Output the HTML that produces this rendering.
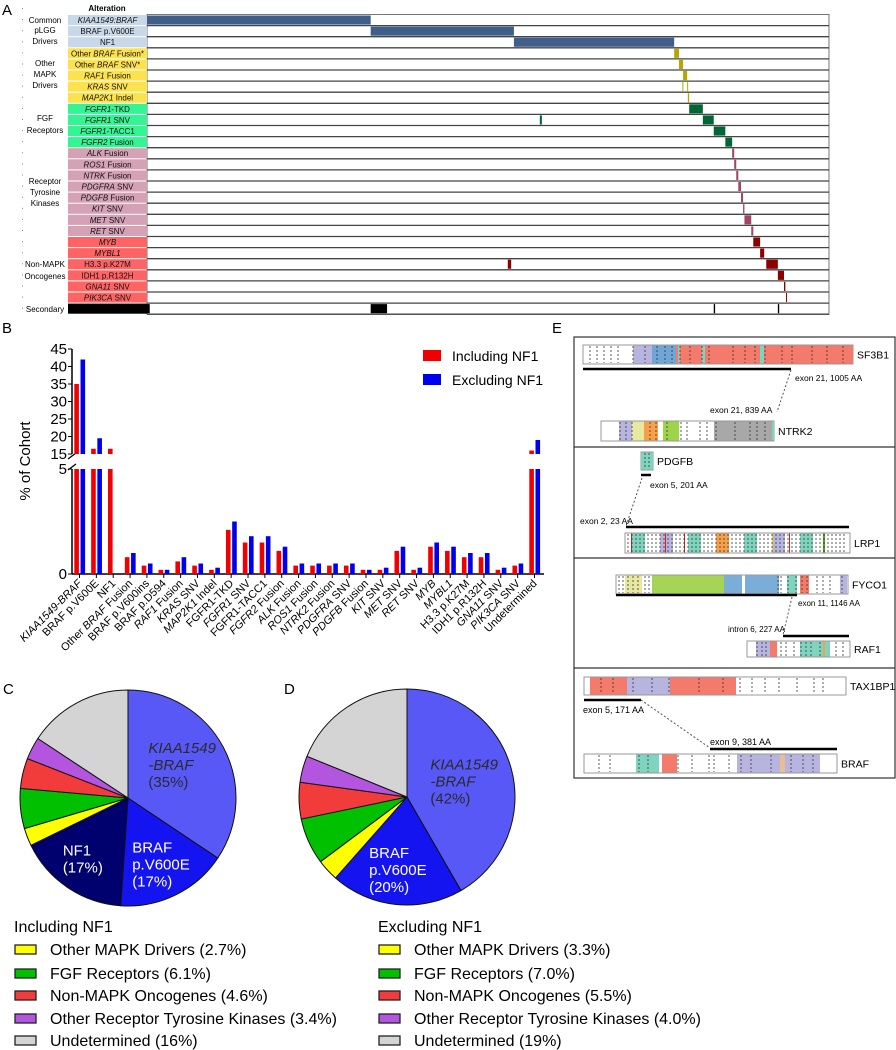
<!DOCTYPE html>
<html><head><meta charset="utf-8"><style>
html,body{margin:0;padding:0;background:#fff;}
svg{display:block;font-family:"Liberation Sans",sans-serif;}
</style></head><body>
<svg id="fig" width="896" height="1050" viewBox="0 0 896 1050" xmlns="http://www.w3.org/2000/svg">
<g id="pa"></g>
<g id="pb"></g>
<g id="pc"></g>
<g id="pd"></g>
<g id="pe"></g>
<text x="2" y="15" font-size="15">A</text>
<text x="2" y="333" font-size="15">B</text>
<text x="552" y="333" font-size="15">E</text>
<text x="3" y="694" font-size="15">C</text>
<text x="284" y="694" font-size="15">D</text>
</svg>
<script>
var NS="http://www.w3.org/2000/svg";
function mk(tag,attrs,parent,txt){var e=document.createElementNS(NS,tag);for(var k in attrs)e.setAttribute(k,attrs[k]);if(txt!==undefined)e.textContent=txt;parent.appendChild(e);return e;}

/* ---------- Panel A data ---------- */
var aRows=["KIAA1549:BRAF","BRAF p.V600E","NF1","Other BRAF Fusion*","Other BRAF SNV*","RAF1 Fusion","KRAS SNV","MAP2K1 Indel","FGFR1-TKD","FGFR1 SNV","FGFR1-TACC1","FGFR2 Fusion","ALK Fusion","ROS1 Fusion","NTRK Fusion","PDGFRA SNV","PDGFB Fusion","KIT SNV","MET SNV","RET SNV","MYB","MYBL1","H3.3 p.K27M","IDH1 p.R132H","GNA11 SNV","PIK3CA SNV","Secondary"];
var aItalic=["KIAA1549:BRAF","","","BRAF","BRAF","RAF1","KRAS","MAP2K1","FGFR1","FGFR1","FGFR1","FGFR2","ALK","ROS1","NTRK","PDGFRA","PDGFB","KIT","MET","RET","MYB","MYBL1","","","GNA11","PIK3CA",""];
var aGroup=[0,0,0,1,1,1,1,1,2,2,2,2,3,3,3,3,3,3,3,3,4,4,4,4,4,4,5];
var aSegs=[[[0,328]],[[328,538]],[[538,773]],[[773,780]],[[780,786]],[[786,792]],[[785,786],[792,793]],[[793,795]],[[795,815]],[[576,579],[815,831]],[[831,848]],[[848,858]],[[858,861]],[[861,864]],[[864,867]],[[867,871]],[[871,874]],[[874,876]],[[876,886]],[[886,889]],[[889,899]],[[899,905]],[[529,534],[908,925]],[[925,934]],[[934,936]],[[937,938]],[[0,4],[328,352],[831,833],[925,927]]];
var aTotal=1000;
var groupNames=[["Common","pLGG","Drivers"],["Other","MAPK","Drivers"],["FGF","Receptors"],["Receptor","Tyrosine","Kinases"],["Non-MAPK","Oncogenes"],["Secondary"]];
(function(){
var g=document.getElementById('pa');
var labBg=["#c9d8e8","#fde24f","#34f594","#d4a1b5","#ff6464","#000"];
var barC=["#3f5f8a","#b8a600","#006633","#a04468","#8b0000","#000"];
var x0=147,x1=829,y0=14.5,rh=11.1;
function sx(u){return x0+u/aTotal*(x1-x0);}
var h=mk('text',{x:107,y:11,'font-size':8,'font-weight':'bold','text-anchor':'middle'},g,'Alteration');

mk('rect',{x:x0,y:y0,width:x1-x0,height:rh*27,fill:'#fff',stroke:'#777','stroke-width':1},g);
for(var i=0;i<aRows.length;i++){
 var y=y0+i*rh;
 var r=mk('rect',{x:68,y:y+0.5,width:79,height:rh-1,fill:labBg[aGroup[i]]},g);
 
 if(i<26){
  var t=mk('text',{x:107.5,y:y+8.5,'font-size':8,'text-anchor':'middle',fill:'#111'},g);
  
  var lab=aRows[i],it=aItalic[i];
  if(it&&lab.indexOf(it)>=0){var p=lab.indexOf(it);
   if(p>0)mk('tspan',{},t,lab.slice(0,p));
   mk('tspan',{'font-style':'italic'},t,it);
   if(p+it.length<lab.length)mk('tspan',{},t,lab.slice(p+it.length));
  } else t.textContent=lab;
 }
 for(var s=0;s<aSegs[i].length;s++){var sg=aSegs[i][s];
  var b=mk('rect',{x:sx(sg[0]),y:y+1,width:Math.max(1,sx(sg[1])-sx(sg[0])),height:rh-2,fill:barC[aGroup[i]]},g);
  }
 mk('line',{x1:x0,x2:x1,y1:y+rh,y2:y+rh,stroke:'#444','stroke-width':1.3},g);
}
var gy=[[20,30,41],[63,74,85],[118,130],[181,192,203],[264,276],[309]];
for(var k=0;k<groupNames.length;k++){for(var j=0;j<groupNames[k].length;j++){
 var gt=mk('text',{x:45,y:gy[k][j]+3,'font-size':8,'text-anchor':'middle'},g,groupNames[k][j]);
 }}
for(var d=0;d<28;d++){mk('rect',{x:22,y:8+d*11.1,width:1,height:1,fill:'#888'},g);}
})();

/* ---------- Panel B data ---------- */
var bCats=["KIAA1549-BRAF","BRAF p.V600E","NF1","Other BRAF Fusion","BRAF p.V600ins","BRAF p.D594","RAF1 Fusion","KRAS SNV","MAP2K1 Indel","FGFR1-TKD","FGFR1 SNV","FGFR1-TACC1","FGFR2 Fusion","ALK Fusion","ROS1 Fusion","NTRK2 Fusion","PDGFRA SNV","PDGFB Fusion","KIT SNV","MET SNV","RET SNV","MYB","MYBL1","H3.3 p.K27M","IDH1 p.R132H","GNA11 SNV","PIK3CA SNV","Undetermined"];
var bItal=["KIAA1549-BRAF","","","BRAF","","","RAF1","KRAS","MAP2K1","","FGFR1","","FGFR2","ALK","ROS1","NTRK2","PDGFRA","PDGFB","KIT","MET","RET","MYB","MYBL1","","","GNA11","PIK3CA",""];
var bIncl=[35,16.5,16.5,0.8,0.4,0.2,0.6,0.4,0.2,2.1,1.5,1.5,1.1,0.4,0.4,0.4,0.4,0.2,0.2,1.1,0.2,1.3,1.1,0.8,0.8,0.2,0.4,16];
var bExcl=[42,19.5,0,1.0,0.5,0.2,0.8,0.5,0.3,2.5,1.8,1.8,1.3,0.5,0.5,0.5,0.5,0.2,0.3,1.3,0.3,1.5,1.3,1.0,1.0,0.3,0.5,19];
var bUpperTicks=[15,20,25,30,35,40,45];
var bLowerTicks=[0,5];
(function(){
var g=document.getElementById('pb');
var axX=72,y0=574,yLow5=469,yUp15=454,yUp45=349;
var n=bCats.length,first=79.5,last=534.5,step=(last-first)/(n-1);
function cx(i){return first+i*step;}
function yL(v){return y0-(Math.min(v,5))/5*(y0-yLow5);}
function yU(v){return yUp15-(v-15)/30*(yUp15-yUp45);}
mk('line',{x1:axX,x2:axX,y1:y0,y2:yLow5,stroke:'#000','stroke-width':1.5},g);
mk('line',{x1:axX,x2:axX,y1:yUp15,y2:yUp45,stroke:'#000','stroke-width':1.5},g);
mk('line',{x1:axX-4,x2:axX+4,y1:yLow5+1,y2:yLow5-5,stroke:'#000','stroke-width':1.3},g);
mk('line',{x1:axX-4,x2:axX+4,y1:yUp15+5,y2:yUp15-1,stroke:'#000','stroke-width':1.3},g);
mk('line',{x1:axX,x2:544,y1:y0,y2:y0,stroke:'#000','stroke-width':1.5},g);
bUpperTicks.forEach(function(v){var y=yU(v);mk('line',{x1:axX-4,x2:axX,y1:y,y2:y,stroke:'#000'},g);
 var t=mk('text',{x:axX-5,y:y+5,'font-size':15,'text-anchor':'end'},g,v);});
bLowerTicks.forEach(function(v){var y=yL(v);mk('line',{x1:axX-4,x2:axX,y1:y,y2:y,stroke:'#000'},g);
 var t=mk('text',{x:axX-5,y:y+5,'font-size':15,'text-anchor':'end'},g,v);});
var yt=mk('text',{x:0,y:0,'font-size':15,'text-anchor':'middle',transform:'translate(30,461) rotate(-90)'},g,'% of Cohort');

function bar(x,v,col){if(v<=0)return;
 var r=mk('rect',{x:x,y:yL(v),width:4.6,height:y0-yL(v),fill:col},g);
 
 if(v>15){var r2=mk('rect',{x:x,y:yU(v),width:4.6,height:yUp15-yU(v),fill:col},g);
  }}
for(var i=0;i<n;i++){var c=cx(i);
 mk('line',{x1:c,x2:c,y1:y0,y2:y0+4,stroke:'#000'},g);
 bar(c-5.2,bIncl[i],'#f00000');bar(c+1,bExcl[i],'#0000f0');
 var t=mk('text',{x:0,y:0,'font-size':11,'text-anchor':'end',transform:'translate('+(c+3)+','+(y0+10)+') rotate(-45)'},g);
 
 var lab=bCats[i],it=bItal[i];
 if(it&&lab.indexOf(it)>=0){var p=lab.indexOf(it);if(p>0)mk('tspan',{},t,lab.slice(0,p));mk('tspan',{'font-style':'italic'},t,it);if(p+it.length<lab.length)mk('tspan',{},t,lab.slice(p+it.length));}
 else t.textContent=lab;
}
var l1=mk('rect',{x:423,y:350,width:18,height:11,fill:'#f00000'},g);
var t1=mk('text',{x:452,y:361,'font-size':14},g,'Including NF1');
var l2=mk('rect',{x:423,y:374,width:18,height:11,fill:'#0000f0'},g);
var t2=mk('text',{x:452,y:385,'font-size':14},g,'Excluding NF1');
})();

/* ---------- Pie data ---------- */
var pieCSlices=["KIAA1549-BRAF","BRAF p.V600E","NF1","Other MAPK Drivers","FGF Receptors","Non-MAPK Oncogenes","Other Receptor Tyrosine Kinases","Undetermined"];
var pieCValues=[35,17,17,2.7,6.1,4.6,3.4,16];
var pieDSlices=["KIAA1549-BRAF","BRAF p.V600E","Other MAPK Drivers","FGF Receptors","Non-MAPK Oncogenes","Other Receptor Tyrosine Kinases","Undetermined"];
var pieDValues=[42,20,3.3,7.0,5.5,4.0,19];
var legendCLabels=["Other MAPK Drivers (2.7%)","FGF Receptors (6.1%)","Non-MAPK Oncogenes (4.6%)","Other Receptor Tyrosine Kinases (3.4%)","Undetermined (16%)"];
var legendDLabels=["Other MAPK Drivers (3.3%)","FGF Receptors (7.0%)","Non-MAPK Oncogenes (5.5%)","Other Receptor Tyrosine Kinases (4.0%)","Undetermined (19%)"];
var colorMap={"KIAA1549-BRAF":"#5858f6","BRAF p.V600E":"#1414f0","NF1":"#00006e","Other MAPK Drivers":"#ffff00","FGF Receptors":"#00c000","Non-MAPK Oncogenes":"#f23c3c","Other Receptor Tyrosine Kinases":"#b455e0","Undetermined":"#d4d4d4"};
function pie(id,names,vals,cx,cy,r,legendLabels,title,lx,offs){
 var g=document.getElementById(id);var tot=vals.reduce(function(a,b){return a+b;},0);var a=0;var mids=[];
 for(var i=0;i<vals.length;i++){var a1=a+vals[i]/tot*2*Math.PI;
  var x0=cx+r*Math.sin(a),y0=cy-r*Math.cos(a),x1=cx+r*Math.sin(a1),y1=cy-r*Math.cos(a1);
  var p=mk('path',{d:'M'+cx+','+cy+'L'+x0+','+y0+'A'+r+','+r+' 0 '+((a1-a)>Math.PI?1:0)+' 1 '+x1+','+y1+'Z',fill:colorMap[names[i]],stroke:'#111','stroke-width':1},g);
  
  mids.push((a+a1)/2);a=a1;}
 function lbl(idx,lines,dx,dy,col,ital){var m=mids[idx];var tx=cx+r*0.55*Math.sin(m)+dx,ty=cy-r*0.55*Math.cos(m)+dy;
  var t=mk('text',{x:tx,y:ty,'font-size':15,fill:col},g);
  lines.forEach(function(s,k){mk('tspan',{x:tx,dy:k?17:0,'font-style':(ital&&k<2)?'italic':'normal'},t,s);});}
 lbl(0,["KIAA1549","-BRAF","("+Math.round(vals[0])+"%)"],offs[0],offs[1],'#2a2a2a',true);
 lbl(1,["BRAF","p.V600E","("+Math.round(vals[1])+"%)"],offs[2],offs[3],'#fff',false);
 if(names[2]==="NF1")lbl(2,["NF1","("+Math.round(vals[2])+"%)"],offs[4],offs[5],'#fff',false);
 var tt=mk('text',{x:lx,y:932,'font-size':16},g,title);
 var keys=["Other MAPK Drivers","FGF Receptors","Non-MAPK Oncogenes","Other Receptor Tyrosine Kinases","Undetermined"];
 var ys=[949,973,995,1018,1040];
 for(var k=0;k<keys.length;k++){
  var s=mk('rect',{x:lx+1,y:ys[k]-4,width:21,height:9,fill:colorMap[keys[k]],stroke:'#222','stroke-width':1.3},g);
  var t=mk('text',{x:lx+36,y:ys[k]+6,'font-size':16},g,legendLabels[k]);}
}
pie('pc',pieCSlices,pieCValues,128,798,108,legendCLabels,'Including NF1',14,[-32,-17,-22,1,-32,8]);
pie('pd',pieDSlices,pieDValues,407,797,108,legendDLabels,'Excluding NF1',378,[-34,-12,-32,2]);

/* ---------- Panel E ---------- */
(function(){
var g=document.getElementById('pe');
mk('rect',{x:574,y:337,width:321,height:441,fill:'none',stroke:'#333','stroke-width':1.2},g);
[447,558,668].forEach(function(y){mk('line',{x1:574,x2:895,y1:y,y2:y,stroke:'#333','stroke-width':1.2},g);});
function prot(name,x,y,w,h,segs,dashes,label){
 var gg=mk('g',{},g);
 mk('rect',{x:x,y:y,width:w,height:h,fill:'#fff',stroke:'#999'},gg);
 segs.forEach(function(s){mk('rect',{x:s[0],y:y+0.5,width:s[1]-s[0],height:h-1,fill:s[2]},gg);});
 dashes.forEach(function(d){mk('line',{x1:d,x2:d,y1:y+1,y2:y+h-1,stroke:'#333','stroke-dasharray':'2,2','stroke-width':0.8},gg);});
 mk('text',{x:x+w+4,y:y+h/2+4,'font-size':10.5},gg,label);}
function dl(a){var o=[];for(var i=0;i<a.length;i++)o.push(a[i]);return o;}
prot('sf',583,345,270,19,[[633,652,'#b8b4e0'],[652,676,'#6fa6d6'],[676,853,'#f47a6c'],[678,680,'#7fd4c0'],[702,705,'#7fd4c0'],[760,764,'#7fd4c0']],dl([590,597,604,611,618,633,645,657,665,672,680,690,702,709,733,745,755,765,782,792,812,827,843]),'SF3B1');
mk('line',{x1:583,x2:791,y1:369,y2:369,stroke:'#000','stroke-width':2.5},g);
mk('text',{x:795,y:381,'font-size':8.5},g,'exon 21, 1005 AA');
mk('line',{x1:791,y1:370,x2:777,y2:412,stroke:'#555','stroke-dasharray':'2,2'},g);
mk('text',{x:710,y:413,'font-size':8.5},g,'exon 21, 839 AA');
prot('nt',601,421,173,20,[[619,632,'#b8b4e0'],[632,644,'#e8e8a0'],[644,658,'#f6a04a'],[663,679,'#9ed44a'],[714,772,'#a8a8a8'],[772,774,'#7fd4c0']],dl([620,626,632,650,656,667,681,687,700,707,716,735,750,757,765]),'NTRK2');
prot('pd',641,452,12,18,[[641,653,'#7fd4c0']],dl([645,649]),'PDGFB');
mk('line',{x1:641,x2:651,y1:475,y2:475,stroke:'#000','stroke-width':2.5},g);
mk('text',{x:650,y:488,'font-size':8.5},g,'exon 5, 201 AA');
mk('line',{x1:642,y1:478,x2:626,y2:526,stroke:'#555','stroke-dasharray':'2,2'},g);
mk('text',{x:580,y:524,'font-size':8.5},g,'exon 2, 23 AA');
mk('line',{x1:626,x2:849,y1:527,y2:527,stroke:'#000','stroke-width':2.5},g);
var lseg=[],ld=[];var lc=['#7fd4c0','#b8b4e0','#7fd4c0','#f6a04a','#7fd4c0','#b8b4e0','#7fd4c0'];
for(var i=0;i<7;i++){lseg.push([632+i*28,645+i*28,lc[i]]);}
lseg.push([631,632,'#e02020']);lseg.push([665,666,'#e02020']);lseg.push([684,685,'#e02020']);lseg.push([789,790,'#e02020']);lseg.push([772,773,'#f0d000']);lseg.push([823,825,'#50a020']);
for(var x=628;x<848;x+=4)ld.push(x);
prot('lr',625,533,225,20,lseg,ld,'LRP1');
prot('fy',616,575,232,19,[[625,642,'#e8e8a0'],[652,724,'#a6d454'],[724,742,'#7aaed8'],[745,779,'#7aaed8'],[787,797,'#7fd4c0'],[800,809,'#f47a6c'],[840,847,'#b8b4e0']],dl([619,623,628,633,638,645,649,778,781,788,796,802,807,817,823,830,842]),'FYCO1');
mk('line',{x1:616,x2:797,y1:595,y2:595,stroke:'#000','stroke-width':2.5},g);
mk('text',{x:798,y:606,'font-size':8},g,'exon 11, 1146 AA');
mk('line',{x1:792,y1:597,x2:783,y2:635,stroke:'#555','stroke-dasharray':'2,2'},g);
mk('text',{x:728,y:632,'font-size':8},g,'intron 6, 227 AA');
mk('line',{x1:783,x2:849,y1:636,y2:636,stroke:'#000','stroke-width':2.5},g);
prot('rf',747,641,103,16,[[756,770,'#b8b4e0'],[770,777,'#f47a6c'],[800,830,'#7fd4c0'],[823,825,'#f6a04a']],dl([757,762,766,781,786,794,801,806,811,820,836,843]),'RAF1');
prot('tx',584,677,262,18,[[590,627,'#f47a6c'],[627,670,'#b8b4e0'],[670,736,'#f47a6c']],dl([601,613,633,652,669,699,723,740,752,765,779,797,814,823]),'TAX1BP1');
mk('line',{x1:584,x2:641,y1:700,y2:700,stroke:'#000','stroke-width':2.5},g);
mk('text',{x:583,y:713,'font-size':9},g,'exon 5, 171 AA');
mk('line',{x1:641,y1:700,x2:710,y2:748,stroke:'#555','stroke-dasharray':'2,2'},g);
mk('text',{x:710,y:745,'font-size':9},g,'exon 9, 381 AA');
mk('line',{x1:710,x2:837,y1:749,y2:749,stroke:'#000','stroke-width':2.5},g);
prot('br',584,754,253,19,[[636,659,'#7fd4c0'],[662,677,'#f47a6c'],[737,820,'#b8b4e0'],[780,785,'#e8c090']],dl([599,610,639,648,678,692,709,714,729,741,751,771,791,803,813]),'BRAF');
})();
</script>
</body></html>
